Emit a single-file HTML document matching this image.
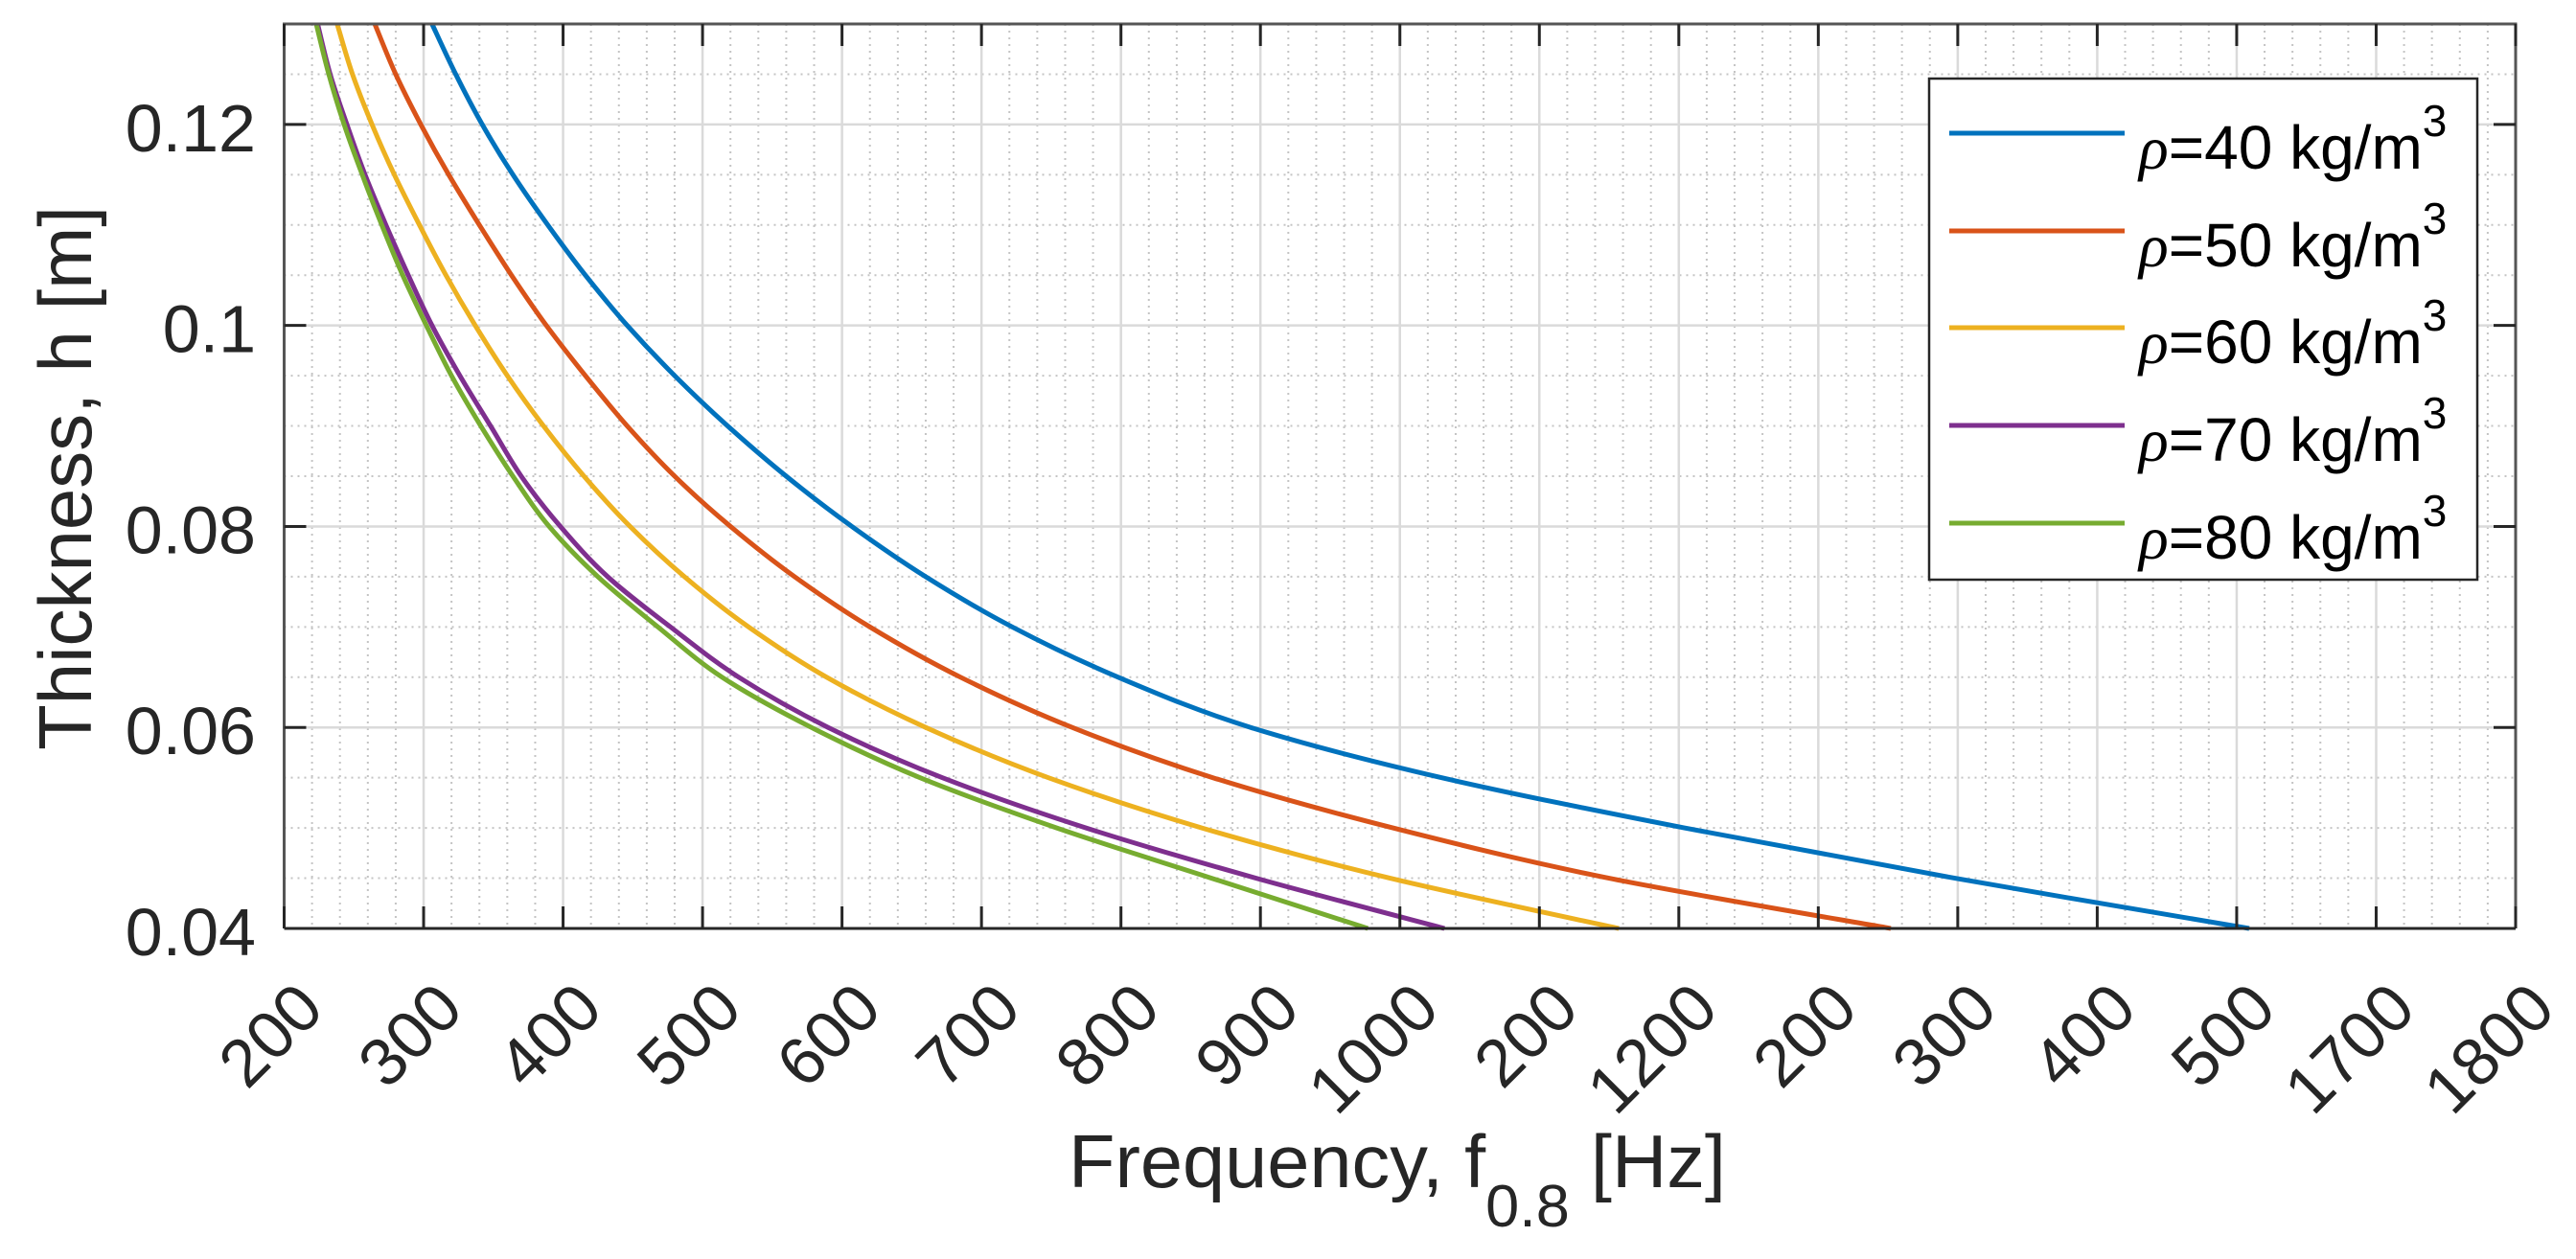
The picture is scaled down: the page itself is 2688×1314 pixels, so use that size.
<!DOCTYPE html>
<html><head><meta charset="utf-8"><style>
html,body{margin:0;padding:0;background:#fff;}
svg{display:block;font-family:"Liberation Sans",Arial,sans-serif;}
</style></head><body>
<svg id="chart" width="2688" height="1314" viewBox="0 0 2688 1314" xmlns="http://www.w3.org/2000/svg">
<rect x="0" y="0" width="2688" height="1314" fill="#fff"/>
<g id="grid"></g>
<g id="series"></g>
<g id="axes"></g>
<g id="legend"></g>
<text x="1115" y="1239" font-size="78" fill="#262626" textLength="686" lengthAdjust="spacingAndGlyphs">Frequency, f<tspan font-size="62" dy="41">0.8</tspan><tspan dy="-41"> [Hz]</tspan></text>
<text x="0" y="0" font-size="78" fill="#262626" text-anchor="middle" transform="translate(95,499) rotate(-90)">Thickness, h [m]</text>
</svg>
<script>
const hLevels = [0.13,0.125,0.12,0.115,0.11,0.105,0.1,0.095,0.09,0.085,0.08,0.075,0.07,0.065,0.06,0.055,0.05,0.045,0.04];
const fRho40 = [306,323,342,364,389,416,446,480,518,560,607,660,722,798,893,1030,1204,1398,1609];
const fRho50 = [265,280,298,318,340,363,388,416,446,480,520,566,620,685,765,866,995,1150,1352];
const fRho60 = [238,249,263,279,297,316,337,360,386,415,448,487,533,589,660,748,858,993,1157];
const fRho70 = [224,233,245,258,273,289,306,326,348,370,398,432,477,526,590,672,775,897,1032];
const fRho80 = [223,232,243,256,270,285,302,320,341,364,390,425,468,514,578,656,754,865,977];
const seriesLabels = ["40","50","60","70","80"];
const xTickValues = [200,300,400,500,600,700,800,900,1000,1100,1200,1300,1400,1500,1600,1700,1800];
const xTickLabels = ["200","300","400","500","600","700","800","900","1000","200","1200","200","300","400","500","1700","1800"];
const yTickValues = [0.04,0.06,0.08,0.1,0.12];
const yTickLabels = ["0.04","0.06","0.08","0.1","0.12"];

const NS = "http://www.w3.org/2000/svg";
const L = 296.5, R = 2625, T = 25, B = 969;
const xMin = 200, xMax = 1800, yMin = 0.04, yMax = 0.13;
const xs = v => L + (v - xMin) / (xMax - xMin) * (R - L);
const ys = v => B - (v - yMin) / (yMax - yMin) * (B - T);
const colors = ["#0072BD","#D95319","#EDB120","#7E2F8E","#77AC30"];
const allSeries = [fRho40,fRho50,fRho60,fRho70,fRho80];

function mk(tag, attrs, parent) {
  const el = document.createElementNS(NS, tag);
  for (const k in attrs) el.setAttribute(k, attrs[k]);
  parent.appendChild(el);
  return el;
}
function smoothPath(pts) {
  let d = 'M' + pts[0][0].toFixed(1) + ' ' + pts[0][1].toFixed(1);
  for (let i = 0; i < pts.length - 1; i++) {
    const p0 = pts[Math.max(0, i - 1)], p1 = pts[i], p2 = pts[i + 1], p3 = pts[Math.min(pts.length - 1, i + 2)];
    const c1x = p1[0] + (p2[0] - p0[0]) / 6, c1y = p1[1] + (p2[1] - p0[1]) / 6;
    const c2x = p2[0] - (p3[0] - p1[0]) / 6, c2y = p2[1] - (p3[1] - p1[1]) / 6;
    d += ` C${c1x.toFixed(1)} ${c1y.toFixed(1)} ${c2x.toFixed(1)} ${c2y.toFixed(1)} ${p2[0].toFixed(1)} ${p2[1].toFixed(1)}`;
  }
  return d;
}
const grid = document.getElementById('grid');
for (let v = xMin; v <= xMax; v += 20) {
  if (v % 100 === 0) continue;
  const el = mk('line', {x1: xs(v), x2: xs(v), y1: T, y2: B, stroke: '#c4c4c4', 'stroke-width': 2, 'stroke-dasharray': '2 5'}, grid);
  
  
}
for (let i = 0; i <= 18; i++) {
  const v = yMin + i * 0.005;
  if (i % 4 === 0) continue;
  const el = mk('line', {x1: L, x2: R, y1: ys(v), y2: ys(v), stroke: '#c4c4c4', 'stroke-width': 2, 'stroke-dasharray': '2 5'}, grid);
  
  
}
xTickValues.forEach(v => {
  const el = mk('line', {x1: xs(v), x2: xs(v), y1: T, y2: B, stroke: '#dadada', 'stroke-width': 2.5}, grid);
  
  
});
yTickValues.forEach(v => {
  const el = mk('line', {x1: L, x2: R, y1: ys(v), y2: ys(v), stroke: '#dadada', 'stroke-width': 2.5}, grid);
  
  
});

const sg = document.getElementById('series');
allSeries.forEach((arr, i) => {
  const pts = arr.map((f, j) => [xs(f), ys(hLevels[j])]);
  const p = mk('path', {d: smoothPath(pts), fill: 'none', stroke: colors[i], 'stroke-width': 5, 'stroke-linejoin': 'round'}, sg);
  
  
});

const ax = document.getElementById('axes');
const box = mk('path', {d: `M${L} ${B} L${L} ${T} L${R} ${T} L${R} ${B}`, fill: 'none', stroke: '#555', 'stroke-width': 3}, ax);


const xl = mk('line', {x1: L, x2: R, y1: B, y2: B, stroke: '#262626', 'stroke-width': 3}, ax);


xTickValues.forEach((v, i) => {
  const t1 = mk('line', {x1: xs(v), x2: xs(v), y1: B, y2: B - 23, stroke: '#262626', 'stroke-width': 3}, ax);
  
  
  const t2 = mk('line', {x1: xs(v), x2: xs(v), y1: T, y2: T + 23, stroke: '#262626', 'stroke-width': 3}, ax);
  
  
  const tx = mk('text', {x: 0, y: 0, 'font-size': 70, fill: '#262626', 'text-anchor': 'end', transform: `translate(${xs(v) + 44},1056) rotate(-45)`}, ax);
  tx.textContent = xTickLabels[i];
  
  
});
yTickValues.forEach((v, i) => {
  const t1 = mk('line', {x1: L, x2: L + 23, y1: ys(v), y2: ys(v), stroke: '#262626', 'stroke-width': 3}, ax);
  
  
  const t2 = mk('line', {x1: R, x2: R - 23, y1: ys(v), y2: ys(v), stroke: '#262626', 'stroke-width': 3}, ax);
  
  
  const tx = mk('text', {x: 267, y: ys(v) + 28, 'font-size': 70, fill: '#262626', 'text-anchor': 'end'}, ax);
  tx.textContent = yTickLabels[i];
  
  
});

const lg = document.getElementById('legend');
const lb = mk('rect', {x: 2013, y: 82, width: 572, height: 523, fill: '#fff', stroke: '#262626', 'stroke-width': 2.5}, lg);


const entryY = [139, 241, 342, 444, 546];
seriesLabels.forEach((s, i) => {
  const g = mk('g', {}, lg);
  
  
  const ln = mk('line', {x1: 2034, x2: 2217, y1: entryY[i], y2: entryY[i], stroke: colors[i], 'stroke-width': 5}, g);
  
  
  const tx = mk('text', {x: 2232, y: entryY[i] + 37, 'font-size': 64, fill: '#000'}, g);
  
  
  const rho = mk('tspan', {'font-style': 'italic', 'font-family': '"Liberation Serif", serif'}, tx);
  rho.textContent = 'ρ';
  const main = mk('tspan', {}, tx);
  main.textContent = '=' + s + ' kg/m';
  const sup = mk('tspan', {dy: -34, 'font-size': 46}, tx);
  sup.textContent = '3';
});
</script>
</body></html>
